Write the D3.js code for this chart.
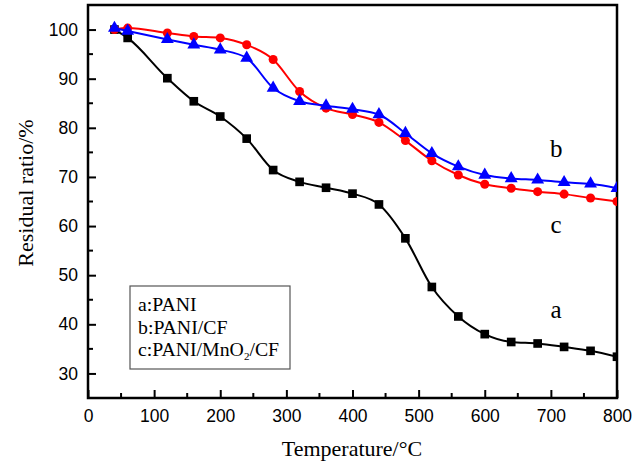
<!DOCTYPE html>
<html>
<head>
<meta charset="utf-8">
<script src="https://cdnjs.cloudflare.com/ajax/libs/d3/7.8.5/d3.min.js"></script>
<style>
  body { margin: 0; background: #fff; }
  svg { display: block; }
</style>
</head>
<body>
<div id="chart"></div>
<script>
"use strict";

// temperature points (°C)
var temps = [40, 60, 120, 160, 200, 240, 280, 320, 360, 400, 440, 480, 520, 560, 600, 640, 680, 720, 760, 800];

// residual ratio (%) per sample
var seriesA = [100.0, 98.3, 90.1, 85.4, 82.3, 77.8, 71.4, 69.0, 67.8, 66.6, 64.4, 57.5, 47.6, 41.6, 38.0, 36.4, 36.1, 35.4, 34.6, 33.4];
var seriesB = [100.3, 99.7, 98.0, 96.9, 95.9, 94.2, 88.1, 85.4, 84.5, 83.8, 82.7, 78.9, 74.8, 72.1, 70.4, 69.7, 69.4, 68.9, 68.6, 67.7];
var seriesC = [100.0, 100.3, 99.3, 98.6, 98.3, 96.9, 93.9, 87.4, 84.0, 82.7, 81.1, 77.4, 73.3, 70.4, 68.5, 67.7, 67.0, 66.5, 65.7, 65.0];

var xTicks = [0, 100, 200, 300, 400, 500, 600, 700, 800];
var yTicks = [30, 40, 50, 60, 70, 80, 90, 100];
var legendLines = ["a:PANI", "b:PANI/CF", "c:PANI/MnO2/CF"];

var margin = { top: 5, right: 25, bottom: 64, left: 88 };
var width = 642 - margin.left - margin.right;
var height = 462 - margin.top - margin.bottom;

var svg = d3.select("#chart").append("svg")
  .attr("width", 642)
  .attr("height", 462);

var g = svg.append("g")
  .attr("transform", "translate(" + margin.left + "," + margin.top + ")");

var x = d3.scaleLinear().domain([0, 800]).range([0, width]);
var y = d3.scaleLinear().domain([25, 105]).range([height, 0]);

svg.append("defs").append("clipPath").attr("id", "plotclip")
  .append("rect").attr("width", width).attr("height", height);

// axes with inward ticks
var xAxis = d3.axisBottom(x).tickValues(xTicks).tickSize(-8).tickPadding(12);
var yAxis = d3.axisLeft(y).tickValues(yTicks).tickSize(-8).tickPadding(10);

var xMinor = d3.range(50, 800, 100);
var yMinor = d3.range(25, 105, 10);

g.append("g").attr("transform", "translate(0," + height + ")")
  .selectAll("line").data(xMinor).enter().append("line")
  .attr("x1", x).attr("x2", x).attr("y1", 0).attr("y2", -5)
  .attr("stroke", "#000").attr("stroke-width", 2);

g.append("g")
  .selectAll("line").data(yMinor).enter().append("line")
  .attr("x1", 0).attr("x2", 5).attr("y1", y).attr("y2", y)
  .attr("stroke", "#000").attr("stroke-width", 2);

var gx = g.append("g").attr("transform", "translate(0," + height + ")").call(xAxis);
var gy = g.append("g").call(yAxis);

[gx, gy].forEach(function(a) {
  a.select(".domain").remove();
  a.selectAll(".tick line").attr("stroke-width", 2);
  a.selectAll("text")
    .attr("font-family", "'Liberation Sans', Arial, sans-serif")
    .attr("font-size", 17.5)
    .attr("fill", "#000");
});

// frame
g.append("rect")
  .attr("width", width).attr("height", height)
  .attr("fill", "none").attr("stroke", "#000").attr("stroke-width", 2.5);

var line = d3.line()
  .x(function(d) { return x(d[0]); })
  .y(function(d) { return y(d[1]); })
  .curve(d3.curveMonotoneX);

var series = [
  { values: seriesA, color: "#000000", symbol: d3.symbolSquare, size: 75 },
  { values: seriesC, color: "#ff0000", symbol: d3.symbolCircle, size: 64 },
  { values: seriesB, color: "#0000ff", symbol: d3.symbolTriangle, size: 72 }
];

var plot = g.append("g").attr("clip-path", "url(#plotclip)");

series.forEach(function(s) {
  var pts = temps.map(function(t, i) { return [t, s.values[i]]; });
  plot.append("path")
    .datum(pts)
    .attr("d", line)
    .attr("fill", "none")
    .attr("stroke", s.color)
    .attr("stroke-width", 2);
  plot.selectAll(null).data(pts).enter().append("path")
    .attr("d", d3.symbol().type(s.symbol).size(s.size))
    .attr("transform", function(d) { return "translate(" + x(d[0]) + "," + y(d[1]) + ")"; })
    .attr("fill", s.color);
});

// curve labels
var serif = "'Liberation Serif', 'Times New Roman', serif";
[["b", 74.1], ["c", 58.6], ["a", 41.3]].forEach(function(l) {
  g.append("text")
    .attr("x", x(708)).attr("y", y(l[1]))
    .attr("text-anchor", "middle")
    .attr("font-family", serif).attr("font-size", 25)
    .text(l[0]);
});

// legend box
var lg = g.append("g").attr("transform", "translate(" + (130 - margin.left) + "," + (286 - margin.top) + ")");
lg.append("rect")
  .attr("width", 160).attr("height", 83)
  .attr("fill", "#fff").attr("stroke", "#555").attr("stroke-width", 1.2);

legendLines.forEach(function(txt, i) {
  var t = lg.append("text")
    .attr("x", 8).attr("y", 25 + i * 22.5)
    .attr("font-family", serif).attr("font-size", 19.8);
  if (txt.indexOf("MnO2") >= 0) {
    t.append("tspan").text("c:PANI/MnO");
    t.append("tspan").attr("font-size", 11).attr("dy", 4).text("2");
    t.append("tspan").attr("dy", -4).text("/CF");
  } else {
    t.text(txt);
  }
});

// axis titles
svg.append("text")
  .attr("x", 352).attr("y", 456)
  .attr("text-anchor", "middle")
  .attr("font-family", serif).attr("font-size", 22)
  .text("Temperature/°C");

svg.append("text")
  .attr("transform", "translate(33,193) rotate(-90)")
  .attr("text-anchor", "middle")
  .attr("font-family", serif).attr("font-size", 22)
  .text("Residual ratio/%");
</script>
</body>
</html>
